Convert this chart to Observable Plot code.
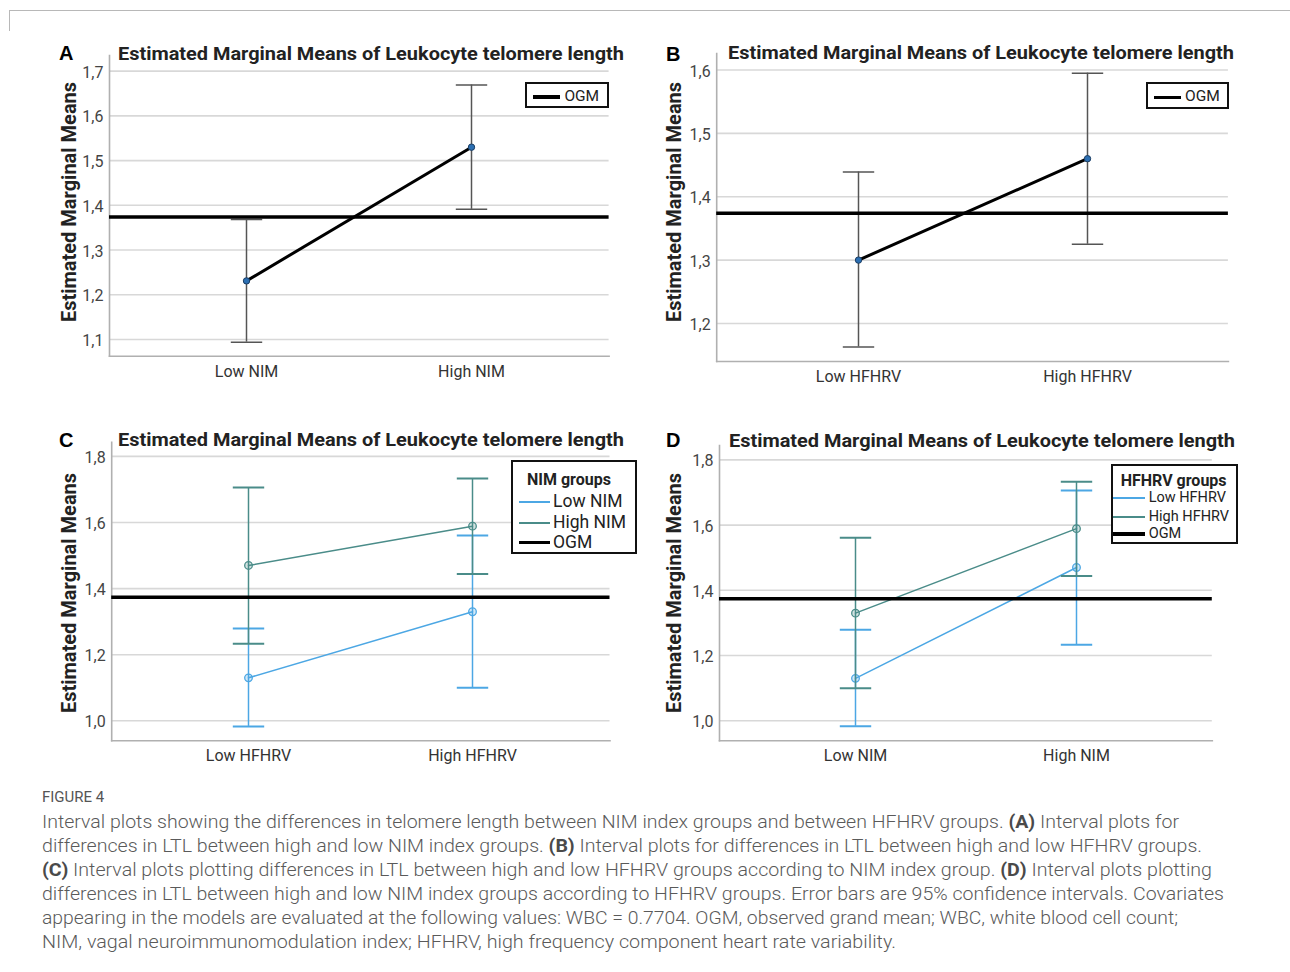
<!DOCTYPE html>
<html>
<head>
<meta charset="utf-8">
<script src="https://cdn.jsdelivr.net/npm/d3@7"></script>
<script src="https://cdn.jsdelivr.net/npm/@observablehq/plot@0.6"></script>
<style>
  body { margin: 0; background: #fff; }
  #fig { position: relative; width: 1290px; height: 972px; background: #fff; overflow: hidden; font-family: Roboto, "Noto Sans", sans-serif; }
  .abs { position: absolute; white-space: nowrap; }
  .title { font-weight: 700; font-size: 18px; line-height: 18px; color: #222; transform-origin: 0 0; }
  .letter { font-family: "Liberation Sans", Arial, sans-serif; font-weight: 700; font-size: 20px; line-height: 20px; color: #000; }
  .ylab { font-weight: 700; font-size: 20px; line-height: 20px; color: #222; transform: translate(-50%, -50%) rotate(-90deg); }
  .legend { border: 2px solid #111; background: #fff; box-sizing: border-box; }
  .lg-line { position: absolute; }
  .lg-text { position: absolute; color: #222; line-height: 1; transform: translateY(-50%); white-space: nowrap; }
  .lg-title { position: absolute; font-weight: 700; font-size: 16px; color: #222; line-height: 1; transform: translateY(-50%); white-space: nowrap; }
  .caption { color: #5a5a5a; font-size: 18px; line-height: 24px; font-weight: 300; transform-origin: 0 0; }
  .caption b { font-weight: 700; color: #4a4a4a; }
  .figlabel { color: #555; font-size: 15px; line-height: 15px; }
</style>
</head>
<body>
<div id="fig"></div>
<script>
// ---------------- data ----------------
const nimGroups = ["Low NIM", "High NIM"];
const hfGroups = ["Low HFHRV", "High HFHRV"];
const ogm = 1.374; // observed grand mean

// Panel A: by NIM group
const meanA = [1.231, 1.530];
const lowerA = [1.094, 1.391];
const upperA = [1.368, 1.669];
const ticksA = [1.1, 1.2, 1.3, 1.4, 1.5, 1.6, 1.7];

// Panel B: by HFHRV group
const meanB = [1.300, 1.460];
const lowerB = [1.163, 1.325];
const upperB = [1.439, 1.595];
const ticksB = [1.2, 1.3, 1.4, 1.5, 1.6];

// Panels C & D: cells, indexed [HFHRV group] within each NIM group
const lowNimMean = [1.130, 1.330];
const lowNimLower = [0.983, 1.100];
const lowNimUpper = [1.279, 1.561];
const highNimMean = [1.470, 1.589];
const highNimLower = [1.233, 1.444];
const highNimUpper = [1.706, 1.733];
const ticksCD = [1.0, 1.2, 1.4, 1.6, 1.8];

const groupColors = ["#4ca7e4", "#4a8c89"]; // low group, high group

// ---------------- helpers ----------------
const fig = document.getElementById("fig");
const fmt = d => d.toFixed(1).replace(".", ",");
const capSymbol = {
  draw(ctx, size) {
    const r = Math.sqrt(size / Math.PI);
    ctx.moveTo(-r, 0);
    ctx.lineTo(r, 0);
  }
};

function add(html, cls, style) {
  const el = document.createElement("div");
  el.className = "abs " + cls;
  el.innerHTML = html;
  Object.assign(el.style, style);
  fig.appendChild(el);
  return el;
}
function fitWidth(el, target) {
  const w = el.getBoundingClientRect().width;
  if (w > 0) el.style.transform = `scaleX(${target / w})`;
}

function panel(cfg) {
  const svg = Plot.plot({
    width: cfg.width, height: cfg.height,
    marginLeft: cfg.mL, marginRight: cfg.mR, marginTop: cfg.mT, marginBottom: cfg.mB,
    style: { fontFamily: "Roboto, sans-serif", fontSize: "16px", color: "#444", background: "transparent", overflow: "visible" },
    x: { type: "point", domain: cfg.cats, padding: cfg.pad, label: null },
    y: { domain: cfg.domain, label: null },
    marks: [
      Plot.ruleY(cfg.ticks, { stroke: "#d8d8d8", strokeWidth: 1.6 }),
      Plot.frame({ anchor: "left", stroke: "#b0b0b0", strokeWidth: 1.6 }),
      Plot.frame({ anchor: "bottom", stroke: "#b0b0b0", strokeWidth: 1.6 }),
      Plot.axisY({ ticks: cfg.ticks, tickFormat: fmt, tickSize: 0, tickPadding: 6, label: null, fontSize: 16, dy: 1.5 }),
      Plot.axisX({ tickSize: 0, tickPadding: 9, label: null, fontSize: 16, fill: "#333" }),
      ...cfg.marks
    ]
  });
  svg.style.position = "absolute";
  svg.style.left = cfg.left + "px";
  svg.style.top = cfg.top + "px";
  fig.appendChild(svg);
}

function errorMarks(rows, color, capW) {
  return [
    Plot.ruleX(rows, { x: "x", y1: "lo", y2: "hi", stroke: color, strokeWidth: 1.5 }),
    Plot.dot(rows, { x: "x", y: "lo", symbol: capSymbol, r: 15.7, fill: "none", stroke: color, strokeWidth: capW }),
    Plot.dot(rows, { x: "x", y: "hi", symbol: capSymbol, r: 15.7, fill: "none", stroke: color, strokeWidth: capW })
  ];
}

function simpleMarks(rows) {
  return [
    ...errorMarks(rows, "#555", 1.5),
    Plot.ruleY([ogm], { stroke: "#000", strokeWidth: 3.5 }),
    Plot.line(rows, { x: "x", y: "m", stroke: "#000", strokeWidth: 3 }),
    Plot.dot(rows, { x: "x", y: "m", r: 3.2, fill: "#2c6fb2", stroke: "#1b3d63", strokeWidth: 1 })
  ];
}

function groupMarks(seriesRows) {
  const out = [];
  seriesRows.forEach((rows, k) => {
    const c = groupColors[k];
    out.push(...errorMarks(rows, c, 2));
    out.push(Plot.line(rows, { x: "x", y: "m", stroke: c, strokeWidth: 1.5 }));
    out.push(Plot.dot(rows, { x: "x", y: "m", r: 3.8, fill: c, fillOpacity: 0.25, stroke: c, strokeWidth: 1.3 }));
  });
  out.push(Plot.ruleY([ogm], { stroke: "#000", strokeWidth: 3.5 }));
  return out;
}

// ---------------- rows ----------------
const rowsA = nimGroups.map((g, i) => ({ x: g, m: meanA[i], lo: lowerA[i], hi: upperA[i] }));
const rowsB = hfGroups.map((g, i) => ({ x: g, m: meanB[i], lo: lowerB[i], hi: upperB[i] }));
const cellMean = [lowNimMean, highNimMean];
const cellLower = [lowNimLower, highNimLower];
const cellUpper = [lowNimUpper, highNimUpper];
// C: x = HFHRV groups, series = NIM groups
const rowsC = [0, 1].map(n => hfGroups.map((g, h) => ({ x: g, m: cellMean[n][h], lo: cellLower[n][h], hi: cellUpper[n][h] })));
// D: x = NIM groups, series = HFHRV groups
const rowsD = [0, 1].map(h => nimGroups.map((g, n) => ({ x: g, m: cellMean[n][h], lo: cellLower[n][h], hi: cellUpper[n][h] })));

// ---------------- panels ----------------
panel({ left: 0, top: 40, width: 640, height: 350, mL: 109, mR: 31.4, mT: 15, mB: 34.3,
  domain: [1.0626, 1.735], ticks: ticksA, cats: nimGroups, pad: 0.607, marks: simpleMarks(rowsA) });
panel({ left: 640, top: 40, width: 620, height: 350, mL: 76.2, mR: 32.1, mT: 13, mB: 29,
  domain: [1.140, 1.626], ticks: ticksB, cats: hfGroups, pad: 0.614, marks: simpleMarks(rowsB) });
panel({ left: 0, top: 425, width: 640, height: 350, mL: 111.2, mR: 30.5, mT: 16.7, mB: 34.7,
  domain: [0.9395, 1.843], ticks: ticksCD, cats: hfGroups, pad: 0.609, marks: groupMarks(rowsC) });
panel({ left: 640, top: 425, width: 620, height: 350, mL: 79, mR: 48.2, mT: 20, mB: 34.7,
  domain: [0.9386, 1.844], ticks: ticksCD, cats: nimGroups, pad: 0.61, marks: groupMarks(rowsD) });

// ---------------- text ----------------
// top border
add("", "", { left: "9px", top: "10px", width: "1290px", height: "20px", borderTop: "1.5px solid #b8b8b8", borderLeft: "1.5px solid #b8b8b8" });

const titleText = "Estimated Marginal Means of Leukocyte telomere length";
const titles = [
  add(titleText, "title", { left: "117.7px", top: "44.5px" }),
  add(titleText, "title", { left: "727.7px", top: "44px" }),
  add(titleText, "title", { left: "118px", top: "431px" }),
  add(titleText, "title", { left: "729px", top: "432px" })
];
titles.forEach(t => fitWidth(t, 506));

add("A", "letter", { left: "59px", top: "43px" });
add("B", "letter", { left: "666px", top: "44px" });
add("C", "letter", { left: "59px", top: "430px" });
add("D", "letter", { left: "666px", top: "430px" });

add("Estimated Marginal Means", "ylab", { left: "68.5px", top: "201.5px" });
add("Estimated Marginal Means", "ylab", { left: "674px", top: "201.5px" });
add("Estimated Marginal Means", "ylab", { left: "69px", top: "593.3px" });
add("Estimated Marginal Means", "ylab", { left: "674px", top: "593.3px" });

// legends
function legend(box, title, items) {
  const el = add("", "legend", { left: box.x + "px", top: box.y + "px", width: box.w + "px", height: box.h + "px" });
  if (title) {
    const t = document.createElement("div");
    t.className = "lg-title";
    t.textContent = title.text;
    t.style.left = title.x + "px"; t.style.top = title.y + "px";
    el.appendChild(t);
  }
  items.forEach(it => {
    const l = document.createElement("div");
    l.className = "lg-line";
    Object.assign(l.style, { left: it.lx + "px", width: it.lw + "px", top: (it.y - it.th / 2) + "px", height: it.th + "px", background: it.color });
    el.appendChild(l);
    const s = document.createElement("div");
    s.className = "lg-text";
    s.textContent = it.label;
    Object.assign(s.style, { left: it.tx + "px", top: it.y + "px", fontSize: it.fs + "px" });
    el.appendChild(s);
  });
}
legend({ x: 525.4, y: 81.7, w: 83.5, h: 26.5 }, null,
  [{ label: "OGM", color: "#000", lx: 6, lw: 27, th: 3.5, y: 13.2, tx: 37, fs: 15.5 }]);
legend({ x: 1146, y: 82.3, w: 83, h: 26.5 }, null,
  [{ label: "OGM", color: "#000", lx: 6, lw: 27, th: 3.5, y: 13.2, tx: 37, fs: 15.5 }]);
legend({ x: 511, y: 460, w: 126, h: 94 }, { text: "NIM groups", x: 14, y: 18 }, [
  { label: "Low NIM", color: groupColors[0], lx: 6, lw: 31, th: 1.6, y: 40, tx: 40, fs: 17.5 },
  { label: "High NIM", color: groupColors[1], lx: 6, lw: 31, th: 2, y: 60.5, tx: 40, fs: 17.5 },
  { label: "OGM", color: "#000", lx: 6, lw: 31, th: 3.8, y: 80.5, tx: 40, fs: 17.5 }
]);
legend({ x: 1110.7, y: 464.3, w: 127.5, h: 80 }, { text: "HFHRV groups", x: 8, y: 14.5 }, [
  { label: "Low HFHRV", color: groupColors[0], lx: 0, lw: 32, th: 1.6, y: 32, tx: 36, fs: 14.5 },
  { label: "High HFHRV", color: groupColors[1], lx: 0, lw: 32, th: 2, y: 50.5, tx: 36, fs: 14.5 },
  { label: "OGM", color: "#000", lx: 0, lw: 32, th: 3.8, y: 68, tx: 36, fs: 14.5 }
]);

// caption
add("FIGURE 4", "figlabel", { left: "42px", top: "790px" });
const capLines = [
  ["Interval plots showing the differences in telomere length between NIM index groups and between HFHRV groups. <b>(A)</b> Interval plots for", 1179],
  ["differences in LTL between high and low NIM index groups. <b>(B)</b> Interval plots for differences in LTL between high and low HFHRV groups.", 1202],
  ["<b>(C)</b> Interval plots plotting differences in LTL between high and low HFHRV groups according to NIM index group. <b>(D)</b> Interval plots plotting", 1212],
  ["differences in LTL between high and low NIM index groups according to HFHRV groups. Error bars are 95% confidence intervals. Covariates", 1224],
  ["appearing in the models are evaluated at the following values: WBC = 0.7704. OGM, observed grand mean; WBC, white blood cell count;", 1178],
  ["NIM, vagal neuroimmunomodulation index; HFHRV, high frequency component heart rate variability.", 896]
];
capLines.forEach(([html, right], i) => {
  const el = add(html, "caption", { left: "42px", top: (810 + i * 24) + "px" });
  fitWidth(el, right - 42);
});
</script>
</body>
</html>
